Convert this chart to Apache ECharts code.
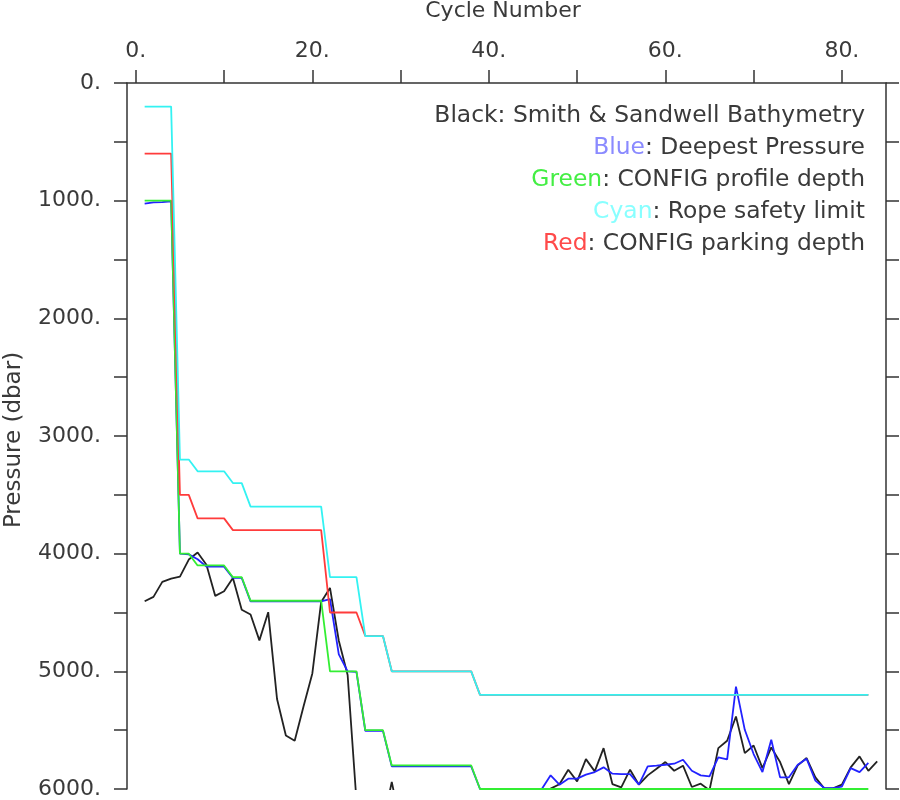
<!DOCTYPE html>
<html>
<head>
<meta charset="utf-8">
<script src="https://cdn.jsdelivr.net/npm/echarts@6/dist/echarts.min.js"></script>
<style>
html,body{margin:0;padding:0;background:#fff;}
#chart{width:900px;height:800px;}
</style>
</head>
<body>
<div id="chart"></div>
<script>
// ---- data ----
const cycles = [1,2,3,4,5,6,7,8,9,10,11,12,13,14,15,16,17,18,19,20,
  21,22,23,24,25,26,27,28,29,30,31,32,33,34,35,36,37,38,39,40,
  41,42,43,44,45,46,47,48,49,50,51,52,53,54,55,56,57,58,59,60,
  61,62,63,64,65,66,67,68,69,70,71,72,73,74,75,76,77,78,79,80,
  81,82,83,84];

// Black: Smith & Sandwell Bathymetry (values > 6000 fall off the plot)
const bathymetry = [4405,4367,4240,4212,4195,4050,3990,4095,4359,4319,
  4206,4476,4517,4737,4497,5235,5546,5590,5299,5018,
  4410,4291,4740,5031,6100,6500,6600,6300,5940,6300,
  6500,6600,6700,6600,6500,6600,6700,6600,6500,6600,
  6700,6600,6500,6400,6300,6200,5997,5960,5836,5935,
  5746,5850,5653,5958,5986,5836,5963,5884,5828,5771,
  5845,5802,5983,5955,6010,5653,5590,5384,5695,5630,
  5822,5647,5771,5958,5799,5737,5901,5995,5995,5963,
  5816,5723,5845,5765];

// Blue: Deepest Pressure
const deepest = [1025,1015,1012,1005,4000,4006,4048,4110,4110,4110,
  4206,4206,4405,4405,4405,4405,4405,4405,4405,4405,
  4405,4387,4856,5000,5005,5505,5505,5505,5808,5808,
  5808,5808,5808,5808,5808,5808,5808,5808,6000,6000,
  6000,6000,6000,6000,6000,6000,5884,5963,5912,5912,
  5878,5856,5816,5870,5873,5873,5963,5808,5802,5794,
  5785,5751,5845,5884,5892,5732,5749,5130,5497,5703,
  5856,5582,5901,5901,5794,5743,5929,5992,5992,5980,
  5822,5856,5777];

// Green: CONFIG profile depth
const profileDepth = [1000,1000,1000,1000,4000,4000,4100,4100,4100,4100,
  4200,4200,4400,4400,4400,4400,4400,4400,4400,4400,
  4400,5000,5000,5000,5000,5500,5500,5500,5800,5800,
  5800,5800,5800,5800,5800,5800,5800,5800,6000,6000,
  6000,6000,6000,6000,6000,6000,6000,6000,6000,6000,
  6000,6000,6000,6000,6000,6000,6000,6000,6000,6000,
  6000,6000,6000,6000,6000,6000,6000,6000,6000,6000,
  6000,6000,6000,6000,6000,6000,6000,6000,6000,6000,
  6000,6000,6000];

// Cyan: Rope safety limit
const ropeLimit = [200,200,200,200,3200,3200,3300,3300,3300,3300,
  3400,3400,3600,3600,3600,3600,3600,3600,3600,3600,
  3600,4200,4200,4200,4200,4700,4700,4700,5000,5000,
  5000,5000,5000,5000,5000,5000,5000,5000,5200,5200,
  5200,5200,5200,5200,5200,5200,5200,5200,5200,5200,
  5200,5200,5200,5200,5200,5200,5200,5200,5200,5200,
  5200,5200,5200,5200,5200,5200,5200,5200,5200,5200,
  5200,5200,5200,5200,5200,5200,5200,5200,5200,5200,
  5200,5200,5200];

// Red: CONFIG parking depth
const parkingDepth = [600,600,600,600,3500,3500,3700,3700,3700,3700,
  3800,3800,3800,3800,3800,3800,3800,3800,3800,3800,
  3800,4500,4500,4500,4500,4700,4700,4700,5000,5000,
  5000,5000,5000,5000,5000,5000,5000,5000,5200,5200,
  5200,5200,5200,5200,5200,5200,5200,5200,5200,5200,
  5200,5200,5200,5200,5200,5200,5200,5200,5200,5200,
  5200,5200,5200,5200,5200,5200,5200,5200,5200,5200,
  5200,5200,5200,5200,5200,5200,5200,5200,5200,5200,
  5200,5200,5200];

const xTickValues = [0,10,20,30,40,50,60,70,80];
const xLabelValues = [0,20,40,60,80];

const legendLines = [
  ['Black', ': Smith & Sandwell Bathymetry'],
  ['Blue', ': Deepest Pressure'],
  ['Green', ': CONFIG profile depth'],
  ['Cyan', ': Rope safety limit'],
  ['Red', ': CONFIG parking depth']
];

// ---- styling ----
const FONT = 'DejaVu Sans';
const TXT = '#3a3a3a';
const AX = '#333333';
const colors = { Black:'#222222', Blue:'#2222ff', Green:'#33ee33', Cyan:'#33f2f2', Red:'#ff3b3b' };
const legendWordColors = { Black:'#3a3a3a', Blue:'#8a8aff', Green:'#44ee44', Cyan:'#88ffff', Red:'#ff4a4a' };

function pairs(vals){ return vals.map((v,i)=>[cycles[i], v]); }

function lineSeries(name, vals, color){
  return {
    name, type:'line', data: pairs(vals), showSymbol:false, symbol:'none',
    clip:true, silent:true,
    lineStyle:{ color, width:1.8 }, itemStyle:{color}
  };
}

const chart = echarts.init(document.getElementById('chart'), null, {renderer:'canvas'});

const axisLineStyle = { color: AX, width: 1.5 };

const option = {
  animation:false,
  backgroundColor:'#ffffff',
  grid:{ left:127, right:14, top:83, bottom:9, containLabel:false },
  xAxis:[{
    type:'value', position:'top', min:-1, max:85,
    axisLine:{ show:true, onZero:false, lineStyle:axisLineStyle },
    axisTick:{ show:true, inside:false, length:13, customValues:xTickValues, lineStyle:axisLineStyle },
    axisLabel:{ show:true, customValues:xLabelValues, formatter:v=>v+'.', fontSize:22, fontFamily:FONT, color:TXT, margin:21 },
    splitLine:{ show:false }
  }],
  yAxis:[{
    type:'value', position:'left', inverse:true, min:0, max:6000, interval:500,
    axisLine:{ show:true, onZero:false, lineStyle:axisLineStyle },
    axisTick:{ show:true, inside:false, length:13, lineStyle:axisLineStyle },
    axisLabel:{ show:true, formatter:v=> (v % 1000 === 0 ? v+'.' : ''), fontSize:22, fontFamily:FONT, color:TXT, margin:26 },
    splitLine:{ show:false }
  },{
    type:'value', position:'right', inverse:true, min:0, max:6000, interval:500,
    axisLine:{ show:true, onZero:false, lineStyle:axisLineStyle },
    axisTick:{ show:true, inside:false, length:13, lineStyle:axisLineStyle },
    axisLabel:{ show:false },
    splitLine:{ show:false }
  }],
  series:[
    lineSeries('Black', bathymetry, colors.Black),
    lineSeries('Blue', deepest, colors.Blue),
    lineSeries('Green', profileDepth, colors.Green),
    lineSeries('Red', parkingDepth, colors.Red),
    lineSeries('Cyan', ropeLimit, colors.Cyan)
  ],
  graphic:[
    { type:'text', x:503, y:11, silent:true,
      style:{ text:'Cycle Number', fontSize:22, fontFamily:FONT, fill:TXT, align:'center', verticalAlign:'middle' } },
    { type:'text', x:14, y:440, rotation:Math.PI/2, silent:true,
      style:{ text:'Pressure (dbar)', fontSize:23, fontFamily:FONT, fill:TXT, align:'center', verticalAlign:'middle' } }
  ].concat(legendLines.map((l,i)=>({
    type:'text', x:865, y:116 + i*32, silent:true,
    style:{
      text:'{w|'+l[0]+'}{t|'+l[1]+'}',
      align:'right', verticalAlign:'middle',
      rich:{
        w:{ fontSize:23.4, fontFamily:FONT, fill:legendWordColors[l[0]], color:legendWordColors[l[0]] },
        t:{ fontSize:23.4, fontFamily:FONT, fill:TXT, color:TXT }
      }
    }
  })))
};

chart.setOption(option);
</script>
</body>
</html>
